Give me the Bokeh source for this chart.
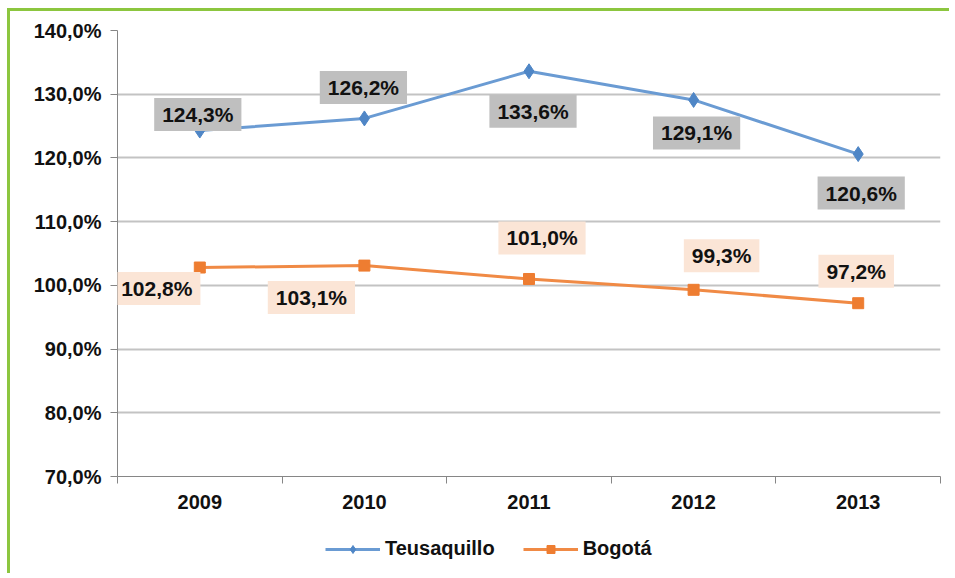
from bokeh.plotting import figure
from bokeh.layouts import column
from bokeh.models import Label, Legend, LegendItem, FixedTicker, Range1d
from bokeh.embed import file_html
from bokeh.resources import INLINE

years = [2009, 2010, 2011, 2012, 2013]
teusaquillo = [124.3, 126.2, 133.6, 129.1, 120.6]
bogota = [102.8, 103.1, 101.0, 99.3, 97.2]
teus_labels = ["124,3%", "126,2%", "133,6%", "129,1%", "120,6%"]
bog_labels = ["102,8%", "103,1%", "101,0%", "99,3%", "97,2%"]
y_ticks = [70, 80, 90, 100, 110, 120, 130, 140]
y_tick_labels = ["70,0%", "80,0%", "90,0%", "100,0%", "110,0%", "120,0%", "130,0%", "140,0%"]
series_names = ["Teusaquillo", "Bogotá"]

# label offsets (screen px) from each point
teus_dx = [-2, -1, 4, 3, 3]
teus_dy = [16, 31, -40, -33, -39]
bog_dx = [-43, -53, 13, 28, -2]
bog_dy = [-21, -32, 41, 34, 32]

FONT = "Liberation Sans"
GREEN = "#8cc63f"
BLUE_LINE, BLUE_MARK = "#6a9bd3", "#4f86c6"
ORANGE_LINE, ORANGE_MARK = "#f08a45", "#ee7d31"

p = figure(frame_width=823, frame_height=446, output_backend="svg", toolbar_location=None,
           x_range=Range1d(2008.5, 2013.5), y_range=Range1d(70, 140),
           min_border_left=107, min_border_right=12, min_border_top=19, min_border_bottom=45,
           background_fill_color="white", border_fill_color="white")
p.outline_line_color = None

# grid
p.xgrid.grid_line_color = None
p.ygrid.grid_line_color = "#c3c3c3"
p.ygrid.grid_line_width = 2

# y axis
p.yaxis.ticker = FixedTicker(ticks=y_ticks)
p.yaxis.major_label_overrides = {t: l for t, l in zip(y_ticks, y_tick_labels)}
p.yaxis.minor_tick_line_color = None
p.yaxis.major_tick_in = 0
p.yaxis.major_tick_out = 7
p.yaxis.axis_line_color = "#868686"
p.yaxis.major_tick_line_color = "#868686"
p.yaxis.major_label_standoff = 9

# x axis: labels at year centers, tick marks at boundaries
p.xaxis.ticker = FixedTicker(ticks=years, minor_ticks=[y - 0.5 for y in years] + [years[-1] + 0.5])
p.xaxis.major_label_overrides = {y: str(y) for y in years}
p.xaxis.major_tick_in = 0
p.xaxis.major_tick_out = 0
p.xaxis.minor_tick_in = 0
p.xaxis.minor_tick_out = 7
p.xaxis.minor_tick_line_color = "#868686"
p.xaxis.axis_line_color = "#868686"
p.xaxis.major_label_standoff = 11

for ax in (p.xaxis, p.yaxis):
    ax.major_label_text_font = FONT
    ax.major_label_text_font_style = "bold"
    ax.major_label_text_font_size = "20px"
    ax.major_label_text_color = "#111111"

# series
p.line(years, teusaquillo, line_color=BLUE_LINE, line_width=3)
p.scatter(years, teusaquillo, marker="diamond", size=15, fill_color=BLUE_MARK, line_color=BLUE_MARK)
p.line(years, bogota, line_color=ORANGE_LINE, line_width=3)
p.scatter(years, bogota, marker="square", size=11, fill_color=ORANGE_MARK, line_color=ORANGE_MARK)

def add_labels(vals, texts, dxs, dys, fill):
    for x, v, t, dx, dy in zip(years, vals, texts, dxs, dys):
        p.add_layout(Label(x=x, y=v, text=t, x_offset=dx, y_offset=dy,
                           text_align="center", text_baseline="middle",
                           text_font=FONT, text_font_style="bold", text_font_size="21px",
                           text_color="#111111",
                           background_fill_color=fill,
                           padding=dict(left=8, right=8, top=5, bottom=5)))

add_labels(teusaquillo, teus_labels, teus_dx, teus_dy, "#bfbfbf")
add_labels(bogota, bog_labels, bog_dx, bog_dy, "#fbe5d6")

# legend strip below the chart; its keys are the series drawn outside this strip's view
q = figure(width=942, height=55, output_backend="svg", toolbar_location=None,
           x_range=Range1d(0, 1), y_range=Range1d(0, 1),
           x_axis_location=None, y_axis_location=None,
           min_border=0, background_fill_color="white", border_fill_color="white")
q.outline_line_color = None
q.grid.visible = False
kt_l = q.line(years, teusaquillo, line_color=BLUE_LINE, line_width=3)
kt_m = q.scatter(years, teusaquillo, marker="diamond", size=10, fill_color=BLUE_MARK, line_color=BLUE_MARK)
kb_l = q.line(years, bogota, line_color=ORANGE_LINE, line_width=3)
kb_m = q.scatter(years, bogota, marker="square", size=8, fill_color=ORANGE_MARK, line_color=ORANGE_MARK)

legend = Legend(items=[LegendItem(label=series_names[0], renderers=[kt_l, kt_m]),
                       LegendItem(label=series_names[1], renderers=[kb_l, kb_m])],
                location=(208, 16), orientation="horizontal",
                glyph_width=55, glyph_height=20, label_height=20,
                label_standoff=5, spacing=28, padding=0, margin=0,
                border_line_color=None, background_fill_alpha=0,
                label_text_font=FONT, label_text_font_style="bold",
                label_text_font_size="20px", label_text_color="#111111")
q.add_layout(legend)

layout = column(p, q, spacing=0)
layout.styles = {"position": "relative", "left": "10px", "top": "11px",
                 "box-shadow": f"-3px -3px 0px 0px {GREEN}"}

open("out.html", "w").write(file_html(layout, INLINE))
